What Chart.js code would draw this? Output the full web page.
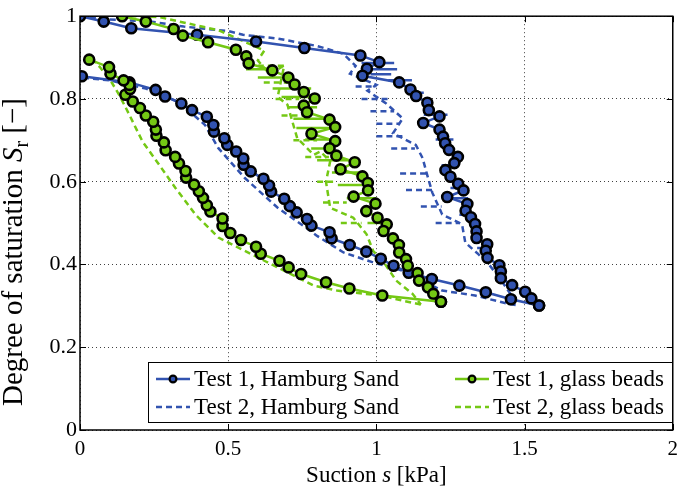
<!DOCTYPE html>
<html>
<head>
<meta charset="utf-8">
<script src="https://cdn.jsdelivr.net/npm/chart.js@4.4.0/dist/chart.umd.min.js"></script>
<style>
  html, body { margin: 0; padding: 0; background: #fff; }
  #wrap { width: 685px; height: 491px; }
</style>
</head>
<body>
<div id="wrap"><canvas id="chart" width="685" height="491"></canvas></div>
<script>
// tick labels
const xTicks = ['0', '0.5', '1', '1.5', '2'];
const yTicks = ['0', '0.2', '0.4', '0.6', '0.8', '1'];

// suction s [kPa], degree of saturation Sr [-]
// Test 1, Hamburg Sand (drying branch, then wetting branch)
const hsT1Dry = [[0, 1.0], [0.08, 0.987], [0.173, 0.971], [0.395, 0.955], [0.594, 0.939], [0.757, 0.923],
  [0.946, 0.905], [1.01, 0.889], [0.968, 0.873], [0.953, 0.856], [1.077, 0.840], [1.115, 0.823],
  [1.134, 0.807], [1.172, 0.791], [1.177, 0.773], [1.213, 0.758], [1.158, 0.742], [1.213, 0.726],
  [1.225, 0.709], [1.232, 0.693], [1.245, 0.677], [1.275, 0.660], [1.263, 0.645], [1.233, 0.628],
  [1.25, 0.612], [1.276, 0.595], [1.294, 0.579], [1.239, 0.563], [1.307, 0.546], [1.301, 0.530],
  [1.319, 0.514], [1.333, 0.498], [1.338, 0.480], [1.338, 0.464], [1.374, 0.449], [1.369, 0.433],
  [1.375, 0.416], [1.415, 0.398], [1.42, 0.383], [1.42, 0.367], [1.458, 0.350], [1.502, 0.334],
  [1.523, 0.318], [1.549, 0.301]];
const hsT1Wet = [[1.549, 0.301], [1.454, 0.316], [1.369, 0.333], [1.28, 0.349], [1.187, 0.365],
  [1.109, 0.380], [1.058, 0.397], [1.015, 0.414], [0.966, 0.431], [0.91, 0.447], [0.849, 0.463],
  [0.842, 0.478], [0.781, 0.494], [0.766, 0.510], [0.731, 0.526], [0.708, 0.541], [0.689, 0.559],
  [0.645, 0.576], [0.638, 0.591], [0.619, 0.607], [0.576, 0.625], [0.552, 0.641], [0.551, 0.656],
  [0.527, 0.673], [0.497, 0.689], [0.487, 0.705], [0.452, 0.721], [0.45, 0.737], [0.428, 0.757],
  [0.378, 0.773], [0.342, 0.789], [0.287, 0.806], [0.255, 0.822], [0.167, 0.840], [0.006, 0.855]];

// Test 1, glass beads
const gbT1Dry = [[0.142, 1.0], [0.222, 0.987], [0.316, 0.969], [0.347, 0.953], [0.432, 0.937],
  [0.526, 0.919], [0.561, 0.903], [0.569, 0.886], [0.649, 0.869], [0.703, 0.852], [0.724, 0.835],
  [0.755, 0.817], [0.792, 0.801], [0.755, 0.784], [0.766, 0.768], [0.842, 0.750], [0.861, 0.732],
  [0.781, 0.716], [0.861, 0.698], [0.842, 0.681], [0.865, 0.663], [0.927, 0.647], [0.879, 0.630],
  [0.953, 0.613], [0.971, 0.597], [0.972, 0.579], [0.923, 0.564], [0.997, 0.547], [0.966, 0.529],
  [1.004, 0.513], [1.035, 0.497], [1.024, 0.481], [1.056, 0.463], [1.076, 0.447], [1.077, 0.429],
  [1.1, 0.413], [1.106, 0.397], [1.139, 0.379], [1.144, 0.361], [1.174, 0.345], [1.192, 0.329],
  [1.218, 0.310]];
const gbT1Wet = [[1.218, 0.310], [1.02, 0.325], [0.909, 0.342], [0.83, 0.357], [0.746, 0.377],
  [0.704, 0.393], [0.673, 0.409], [0.61, 0.426], [0.594, 0.443], [0.543, 0.459], [0.507, 0.476],
  [0.481, 0.493], [0.481, 0.511], [0.44, 0.528], [0.428, 0.543], [0.415, 0.561], [0.401, 0.577],
  [0.385, 0.593], [0.358, 0.610], [0.356, 0.626], [0.334, 0.644], [0.321, 0.660], [0.289, 0.676],
  [0.283, 0.695], [0.258, 0.711], [0.256, 0.726], [0.247, 0.745], [0.222, 0.760], [0.202, 0.778],
  [0.178, 0.794], [0.153, 0.810], [0.169, 0.824], [0.167, 0.834], [0.147, 0.845], [0.103, 0.861],
  [0.098, 0.877], [0.031, 0.895]];

// Test 2, Hamburg Sand
const hsT2Dry = [[0, 1.0], [0.1, 0.992], [0.229, 0.988], [0.35, 0.975], [0.5, 0.964], [0.55, 0.955],
  [0.667, 0.946], [0.8, 0.928], [0.889, 0.909], [0.93, 0.88], [0.911, 0.861], [1.0, 0.834],
  [0.97, 0.82], [1.033, 0.789], [1.089, 0.753], [1.056, 0.717], [1.133, 0.689], [1.156, 0.657],
  [1.17, 0.62], [1.189, 0.573], [1.222, 0.521], [1.289, 0.497], [1.3, 0.453], [1.344, 0.425],
  [1.38, 0.4], [1.422, 0.361], [1.456, 0.325], [1.47, 0.302]];
const hsT2Wet = [[1.47, 0.302], [1.444, 0.305], [1.333, 0.325], [1.222, 0.337], [1.089, 0.385],
  [0.989, 0.405], [0.889, 0.429], [0.8, 0.469], [0.778, 0.481], [0.667, 0.537], [0.556, 0.609],
  [0.467, 0.681], [0.422, 0.737], [0.333, 0.793], [0.222, 0.825], [0.1, 0.845], [0.0, 0.852]];

// Test 2, glass beads
const gbT2Dry = [[0.17, 1.0], [0.267, 0.998], [0.367, 0.982], [0.467, 0.966], [0.55, 0.94],
  [0.622, 0.917], [0.6, 0.893], [0.64, 0.86], [0.689, 0.881], [0.667, 0.805], [0.7, 0.786],
  [0.733, 0.705], [0.789, 0.665], [0.811, 0.673], [0.844, 0.649], [0.83, 0.6], [0.844, 0.537],
  [0.922, 0.513], [0.967, 0.473], [0.989, 0.433], [1.03, 0.4], [1.067, 0.361], [1.122, 0.329],
  [1.15, 0.303]];
const gbT2Wet = [[1.15, 0.303], [1.011, 0.325], [0.867, 0.337], [0.789, 0.349], [0.622, 0.409],
  [0.467, 0.465], [0.389, 0.521], [0.322, 0.585], [0.267, 0.641], [0.211, 0.697], [0.167, 0.761],
  [0.133, 0.809], [0.106, 0.841], [0.067, 0.877], [0.05, 0.89]];

// noisy horizontal excursions in the drying branches: [Sr, s from, s to]
const hsT1Spikes = [[0.887, 0.95, 1.06], [0.872, 0.96, 1.07], [0.86, 0.98, 1.05], [0.845, 1.04, 1.12],
  [0.815, 1.1, 1.16], [0.762, 1.16, 1.24], [0.702, 1.2, 1.26], [0.64, 1.22, 1.28], [0.585, 1.25, 1.3],
  [0.56, 1.24, 1.31], [0.52, 1.28, 1.33], [0.44, 1.34, 1.39]];
const gbT1Spikes = [[0.872, 0.56, 0.66], [0.852, 0.6, 0.72], [0.825, 0.65, 0.78], [0.805, 0.68, 0.8],
  [0.78, 0.7, 0.8], [0.752, 0.72, 0.85], [0.73, 0.73, 0.87], [0.702, 0.76, 0.87], [0.68, 0.78, 0.86],
  [0.652, 0.8, 0.93], [0.622, 0.85, 0.96], [0.592, 0.87, 0.98], [0.56, 0.9, 1.0], [0.5, 0.97, 1.04]];
const hsT2Spikes = [[0.83, 0.93, 1.0], [0.8, 0.95, 1.04], [0.77, 0.98, 1.06], [0.74, 1.0, 1.08],
  [0.71, 1.0, 1.1], [0.68, 1.05, 1.13], [0.62, 1.08, 1.17], [0.58, 1.1, 1.2], [0.54, 1.15, 1.22],
  [0.5, 1.2, 1.28]];
const gbT2Spikes = [[0.88, 0.6, 0.7], [0.84, 0.62, 0.72], [0.8, 0.66, 0.74], [0.76, 0.68, 0.76],
  [0.7, 0.72, 0.8], [0.66, 0.76, 0.84], [0.6, 0.8, 0.86], [0.55, 0.82, 0.9], [0.5, 0.88, 0.95]];

const BLUE = '#3253b0';
const GREEN = '#74c814';
const FONT = '"Liberation Serif", "Times New Roman", serif';

const pts = arr => arr.map(p => ({ x: p[0], y: p[1] }));
// short separate segments, broken by null points
const segs = arr => arr.flatMap(p => [{ x: p[1], y: p[0] }, { x: p[2], y: p[0] }, { x: p[2], y: null }]);

function solid(data, color) {
    return {
        data: pts(data), showLine: true, borderColor: color, borderWidth: 2.5,
        pointRadius: 5, pointBorderWidth: 2.6, pointBorderColor: '#000',
        pointBackgroundColor: color, tension: 0
    };
}
function dashed(data, color) {
    return {
        data: pts(data), showLine: true, borderColor: color, borderWidth: 2.5,
        borderDash: [6, 4], pointRadius: 0, tension: 0
    };
}
function spikes(data, color, dash) {
    return {
        data: segs(data), showLine: true, spanGaps: false, borderColor: color,
        borderWidth: 2.5, borderDash: dash, pointRadius: 0, tension: 0
    };
}

// inner ticks, frame, axis titles and legend drawn on top
const decor = {
    id: 'decor',
    afterDatasetsDraw(chart) {
        const { ctx, chartArea: a, scales: { x, y } } = chart;
        ctx.save();
        ctx.strokeStyle = '#000';
        ctx.lineWidth = 1;
        ctx.beginPath();
        xTicks.forEach(t => {
            const px = Math.round(x.getPixelForValue(parseFloat(t))) + 0.5;
            ctx.moveTo(px, a.bottom); ctx.lineTo(px, a.bottom - 6);
            ctx.moveTo(px, a.top); ctx.lineTo(px, a.top + 6);
        });
        yTicks.forEach(t => {
            const py = Math.round(y.getPixelForValue(parseFloat(t))) + 0.5;
            ctx.moveTo(a.left, py); ctx.lineTo(a.left + 6, py);
            ctx.moveTo(a.right, py); ctx.lineTo(a.right - 6, py);
        });
        ctx.stroke();
        ctx.lineWidth = 1.5;
        ctx.strokeRect(a.left, a.top, a.right - a.left, a.bottom - a.top);

        // legend
        const lx = 148, ly = 362, lw = 524, lh = 60;
        ctx.fillStyle = '#fff';
        ctx.fillRect(lx, ly, lw, lh);
        ctx.lineWidth = 1;
        ctx.strokeRect(lx + 0.5, ly + 0.5, lw, lh);
        const items = [
            { text: 'Test 1, Hamburg Sand', color: BLUE, dash: [], mark: true, x: 156, y: 379 },
            { text: 'Test 2, Hamburg Sand', color: BLUE, dash: [6, 4], mark: false, x: 156, y: 407 },
            { text: 'Test 1, glass beads', color: GREEN, dash: [], mark: true, x: 455, y: 379 },
            { text: 'Test 2, glass beads', color: GREEN, dash: [6, 4], mark: false, x: 455, y: 407 }
        ];
        ctx.font = '23px ' + FONT;
        ctx.textBaseline = 'middle';
        items.forEach(it => {
            ctx.strokeStyle = it.color;
            ctx.lineWidth = 2.5;
            ctx.setLineDash(it.dash);
            ctx.beginPath();
            ctx.moveTo(it.x, it.y); ctx.lineTo(it.x + 34, it.y);
            ctx.stroke();
            ctx.setLineDash([]);
            if (it.mark) {
                ctx.beginPath();
                ctx.arc(it.x + 17, it.y, 3.4, 0, Math.PI * 2);
                ctx.fillStyle = it.color;
                ctx.fill();
                ctx.lineWidth = 2.2;
                ctx.strokeStyle = '#000';
                ctx.stroke();
            }
            ctx.fillStyle = '#000';
            ctx.fillText(it.text, it.x + 38, it.y + 1);
        });

        // x title: Suction s [kPa]
        ctx.textBaseline = 'alphabetic';
        const xParts = [['Suction ', ''], ['s', 'italic '], [' [kPa]', '']];
        drawParts(ctx, xParts, 23, (a.left + a.right) / 2, 482);

        // y title: Degree of saturation S_r [-]
        ctx.translate(22, 252);
        ctx.rotate(-Math.PI / 2);
        const yParts = [['Degree of saturation ', ''], ['S', 'italic '], ['r', 'sub'], [' [\u2212]', '']];
        drawParts(ctx, yParts, 29, 0, 0);
        ctx.restore();
    }
};

function drawParts(ctx, parts, size, cx, base) {
    const fontFor = p => p[1] === 'sub' ? (Math.round(size * 0.7) + 'px ' + FONT) : (p[1] + size + 'px ' + FONT);
    let total = 0;
    parts.forEach(p => { ctx.font = fontFor(p); total += ctx.measureText(p[0]).width; });
    let cur = cx - total / 2;
    ctx.fillStyle = '#000';
    parts.forEach(p => {
        ctx.font = fontFor(p);
        ctx.fillText(p[0], cur, p[1] === 'sub' ? base + size * 0.22 : base);
        cur += ctx.measureText(p[0]).width;
    });
}

new Chart(document.getElementById('chart'), {
    type: 'scatter',
    data: {
        datasets: [
            solid(gbT1Wet, GREEN),
            solid(gbT1Dry, GREEN),
            solid(hsT1Dry, BLUE),
            solid(hsT1Wet, BLUE),
            spikes(gbT1Spikes, GREEN, []),
            spikes(hsT1Spikes, BLUE, []),
            dashed(gbT2Wet, GREEN),
            dashed(gbT2Dry, GREEN),
            spikes(gbT2Spikes, GREEN, [6, 4]),
            dashed(hsT2Dry, BLUE),
            dashed(hsT2Wet, BLUE),
            spikes(hsT2Spikes, BLUE, [6, 4])
        ]
    },
    options: {
        responsive: false,
        animation: false,
        layout: { padding: { top: 13, right: 5, left: 0, bottom: 0 } },
        scales: {
            x: {
                type: 'linear', min: 0, max: 2,
                afterFit: s => { s.height = 61; },
                afterBuildTicks: s => { s.ticks = xTicks.map(t => ({ value: parseFloat(t) })); },
                ticks: {
                    color: '#000', padding: 7, maxRotation: 0,
                    font: { family: FONT, size: 21 },
                    callback: (v, i) => xTicks[i]
                },
                grid: { color: 'rgba(0,0,0,0.75)', lineWidth: 1, drawTicks: false },
                border: { display: false, dash: [1, 3] }
            },
            y: {
                type: 'linear', min: 0, max: 1,
                afterFit: s => { s.width = 80; },
                afterBuildTicks: s => { s.ticks = yTicks.map(t => ({ value: parseFloat(t) })); },
                ticks: {
                    color: '#000', padding: 3,
                    font: { family: FONT, size: 22 },
                    callback: (v, i) => yTicks[i]
                },
                grid: { color: 'rgba(0,0,0,0.75)', lineWidth: 1, drawTicks: false },
                border: { display: false, dash: [1, 3] }
            }
        },
        plugins: {
            legend: { display: false },
            tooltip: { enabled: false }
        }
    },
    plugins: [decor]
});
</script>
</body>
</html>
